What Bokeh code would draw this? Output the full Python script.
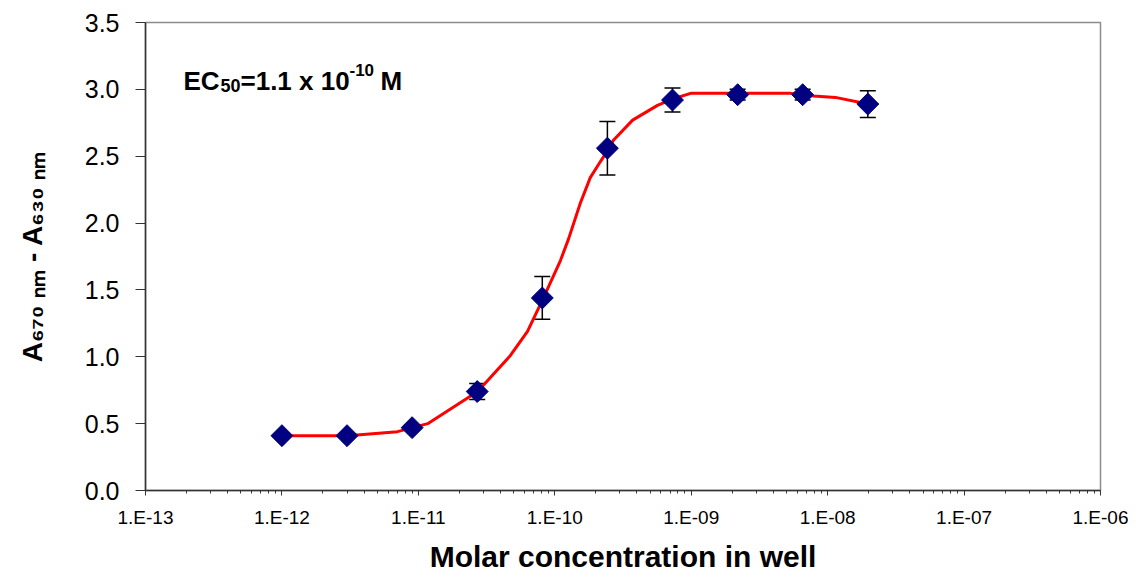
from bokeh.plotting import figure
from bokeh.models import (ColumnDataSource, Range1d, FixedTicker, CustomJSTickFormatter,
                          Whisker, TeeHead, Label, NumeralTickFormatter)
from bokeh.embed import file_html
from bokeh.resources import INLINE
import math

# ---- data ----
conc = [1.0e-12, 3.0e-12, 9.0e-12, 2.7e-11, 8.1e-11, 2.43e-10, 7.29e-10, 2.19e-9, 6.56e-9, 1.97e-8]
absorb = [0.41, 0.41, 0.47, 0.74, 1.44, 2.56, 2.92, 2.96, 2.96, 2.89]
err = [0.0, 0.0, 0.02, 0.06, 0.16, 0.20, 0.09, 0.04, 0.04, 0.10]

fit_conc = [1.0e-12, 3.03e-12, 7.03e-12, 1.17e-11, 2.72e-11, 4.73e-11, 6.31e-11, 8.26e-11,
            1.10e-10, 1.26e-10, 1.54e-10, 1.82e-10, 2.16e-10, 2.43e-10, 2.69e-10,
            3.72e-10, 5.66e-10, 7.41e-10, 9.89e-10, 5.35e-9, 7.87e-9, 1.14e-8, 1.97e-8]
fit_absorb = [0.41, 0.41, 0.44, 0.50, 0.74, 1.01, 1.19, 1.44,
              1.72, 1.88, 2.15, 2.34, 2.46, 2.54, 2.62,
              2.77, 2.88, 2.93, 2.97, 2.97, 2.95, 2.94, 2.89]

x_tick_exps = [-13, -12, -11, -10, -9, -8, -7, -6]
x_tick_labels = ["1.E-13", "1.E-12", "1.E-11", "1.E-10", "1.E-09", "1.E-08", "1.E-07", "1.E-06"]
y_ticks = [0.0, 0.5, 1.0, 1.5, 2.0, 2.5, 3.0, 3.5]
x_title = "Molar concentration in well"
y_title = "A\u2086\u2087\u2080 \u2099\u2098 - A\u2086\u2083\u2080 \u2099\u2098"
ec50_text = ["EC", "50", "=1.1 x 10", "-10", "M"]

FONT = "Liberation Sans"

p = figure(width=1128, height=575, x_axis_type="log",
           x_range=Range1d(10.0 ** x_tick_exps[0], 10.0 ** x_tick_exps[-1]),
           y_range=Range1d(y_ticks[0], y_ticks[-1]),
           output_backend="svg", toolbar_location=None,
           min_border_left=145, min_border_right=28, min_border_top=22, min_border_bottom=83)
p.grid.visible = False
p.outline_line_color = "#8c8c8c"
p.outline_line_width = 1.5
p.background_fill_color = "white"
p.border_fill_color = "white"

# x axis
xa = p.xaxis[0]
xa.ticker = FixedTicker(ticks=[10.0 ** e for e in x_tick_exps],
                        minor_ticks=[m * 10.0 ** e for e in x_tick_exps[:-1] for m in range(2, 10)])
xa.formatter = CustomJSTickFormatter(args=dict(exps=x_tick_exps, labels=x_tick_labels),
    code="const k = Math.round(Math.log10(tick)); const i = exps.indexOf(k); return i >= 0 ? labels[i] : '';")
xa.major_tick_out = 5
xa.major_tick_in = 0
xa.minor_tick_out = 3
xa.minor_tick_in = 0
xa.axis_line_color = "#333333"
xa.axis_line_width = 1.5
xa.major_tick_line_color = "#333333"
xa.minor_tick_line_color = "#333333"
xa.major_label_text_font = FONT
xa.major_label_text_font_size = "19px"
xa.major_label_text_color = "black"
xa.major_label_standoff = 11
xa.axis_label = x_title
xa.axis_label_text_font = FONT
xa.axis_label_text_font_style = "bold"
xa.axis_label_text_font_size = "30px"
xa.axis_label_text_color = "black"
xa.axis_label_standoff = 9

# y axis
ya = p.yaxis[0]
ya.ticker = FixedTicker(ticks=y_ticks)
ya.formatter = NumeralTickFormatter(format="0.0")
ya.major_tick_out = 10
ya.major_tick_in = 0
ya.minor_tick_line_color = None
ya.axis_line_color = "#333333"
ya.axis_line_width = 1.5
ya.major_tick_line_color = "#333333"
ya.major_label_text_font = FONT
ya.major_label_text_font_size = "25px"
ya.major_label_text_color = "black"
ya.major_label_standoff = 16
ya.axis_label = y_title
ya.axis_label_text_font = FONT
ya.axis_label_text_font_style = "bold"
ya.axis_label_text_font_size = "28px"
ya.axis_label_text_color = "black"
ya.axis_label_standoff = 34

# data
pts = ColumnDataSource(dict(x=conc, y=absorb,
                            upper=[a + e for a, e in zip(absorb, err)],
                            lower=[a - e for a, e in zip(absorb, err)]))
fit = ColumnDataSource(dict(x=fit_conc, y=fit_absorb))

wh = Whisker(source=pts, base="x", upper="upper", lower="lower", dimension="height",
             line_color="black", line_width=1.5, level="underlay",
             upper_head=TeeHead(size=16, line_color="black", line_width=1.5),
             lower_head=TeeHead(size=16, line_color="black", line_width=1.5))
p.add_layout(wh)

p.line("x", "y", source=fit, line_color="#ff0000", line_width=3)
p.scatter("x", "y", source=pts, marker="square", angle=math.pi / 4, size=15.5,
          fill_color="#000080", line_color="#000080")

# EC50 annotation (screen units relative to the plot frame)
ec_specs = [(38, 410, "26px"), (75, 405, "18px"), (95, 410, "26px"), (204, 421, "17px"), (235, 410, "26px")]
for txt, (sx, sy, fs) in zip(ec50_text, ec_specs):
    p.add_layout(Label(x=sx, y=sy, x_units="screen", y_units="screen", text=txt,
                       text_font=FONT, text_font_style="bold", text_font_size=fs,
                       text_color="black", text_baseline="alphabetic", text_align="left"))

open("out.html", "w").write(file_html(p, INLINE))
